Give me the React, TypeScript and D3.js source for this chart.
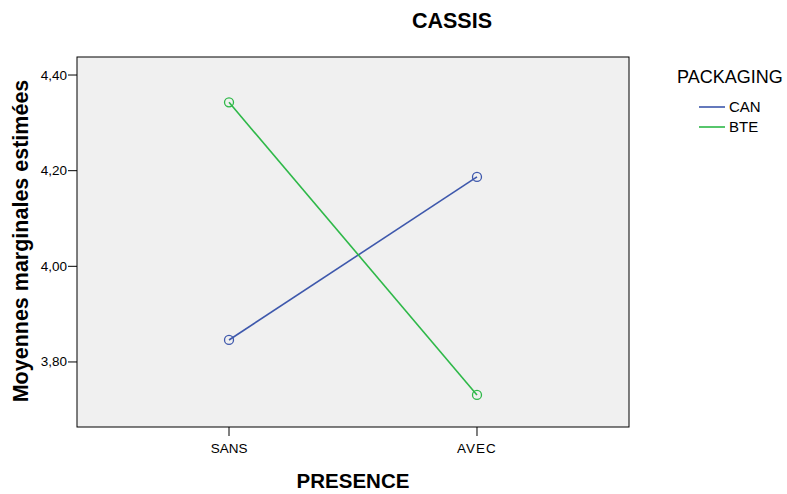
import React from "react";
import * as d3 from "d3";

const presence = ["SANS", "AVEC"];
const series = ["CAN", "BTE"];
const canValues = [3.846, 4.187];
const bteValues = [4.343, 3.731];
const yTicks = [3.8, 4.0, 4.2, 4.4];
const colors = ["#3E58AC", "#2EB848"];

export default function App() {
  const W = 787, H = 494;
  const left = 77, right = 629, top = 57, bottom = 427;
  const x = d3.scalePoint<string>().domain(presence).range([left, right]).padding(0.613);
  const y = d3.scaleLinear().domain([3.664, 4.4377]).range([bottom, top]);
  const data = [canValues, bteValues];
  const line = d3.line<number>().x((_, i) => x(presence[i])!).y((d) => y(d));
  const fmt = (v: number) => v.toFixed(2).replace(".", ",");
  const font = "Arial, 'Liberation Sans', sans-serif";
  return (
    <svg width={W} height={H} style={{ position: "absolute", left: 0, top: 0, fontFamily: font }}>
      <rect x={0} y={0} width={W} height={H} fill="#fff" />
      <text x={452} y={28} textAnchor="middle" fontSize={21.5} fontWeight="bold">CASSIS</text>
      <rect x={left} y={top} width={right - left} height={bottom - top} fill="#F0F0F0" stroke="#000" strokeWidth={1} />
      {yTicks.map((t) => (
        <g key={t}>
          <line x1={left - 9} x2={left} y1={y(t)} y2={y(t)} stroke="#000" />
          <text x={left - 10} y={y(t) + 4.5} textAnchor="end" fontSize={13.5}>{fmt(t)}</text>
        </g>
      ))}
      {presence.map((p) => (
        <g key={p}>
          <line x1={x(p)} x2={x(p)} y1={bottom} y2={bottom + 9} stroke="#000" />
          <text x={x(p)} y={bottom + 26} textAnchor="middle" fontSize={13.5} letterSpacing={p === "AVEC" ? 1 : 0}>{p}</text>
        </g>
      ))}
      <text x={353} y={488} textAnchor="middle" fontSize={20.5} fontWeight="bold">PRESENCE</text>
      <text transform={`translate(28,241) rotate(-90)`} textAnchor="middle" fontSize={21.5} fontWeight="bold">Moyennes marginales estimées</text>
      {data.map((vals, si) => (
        <g key={si}>
          <path d={line(vals)!} fill="none" stroke={colors[si]} strokeWidth={1.6} />
          {vals.map((v, i) => (
            <circle key={i} cx={x(presence[i])} cy={y(v)} r={4.5} fill="none" stroke={colors[si]} strokeWidth={1.3} />
          ))}
        </g>
      ))}
      <text x={677} y={83} fontSize={18}>PACKAGING</text>
      {series.map((s, i) => (
        <g key={s}>
          <line x1={699} x2={725} y1={107 + i * 20} y2={107 + i * 20} stroke={colors[i]} strokeWidth={1.6} />
          <text x={729} y={112 + i * 20} fontSize={15}>{s}</text>
        </g>
      ))}
    </svg>
  );
}
